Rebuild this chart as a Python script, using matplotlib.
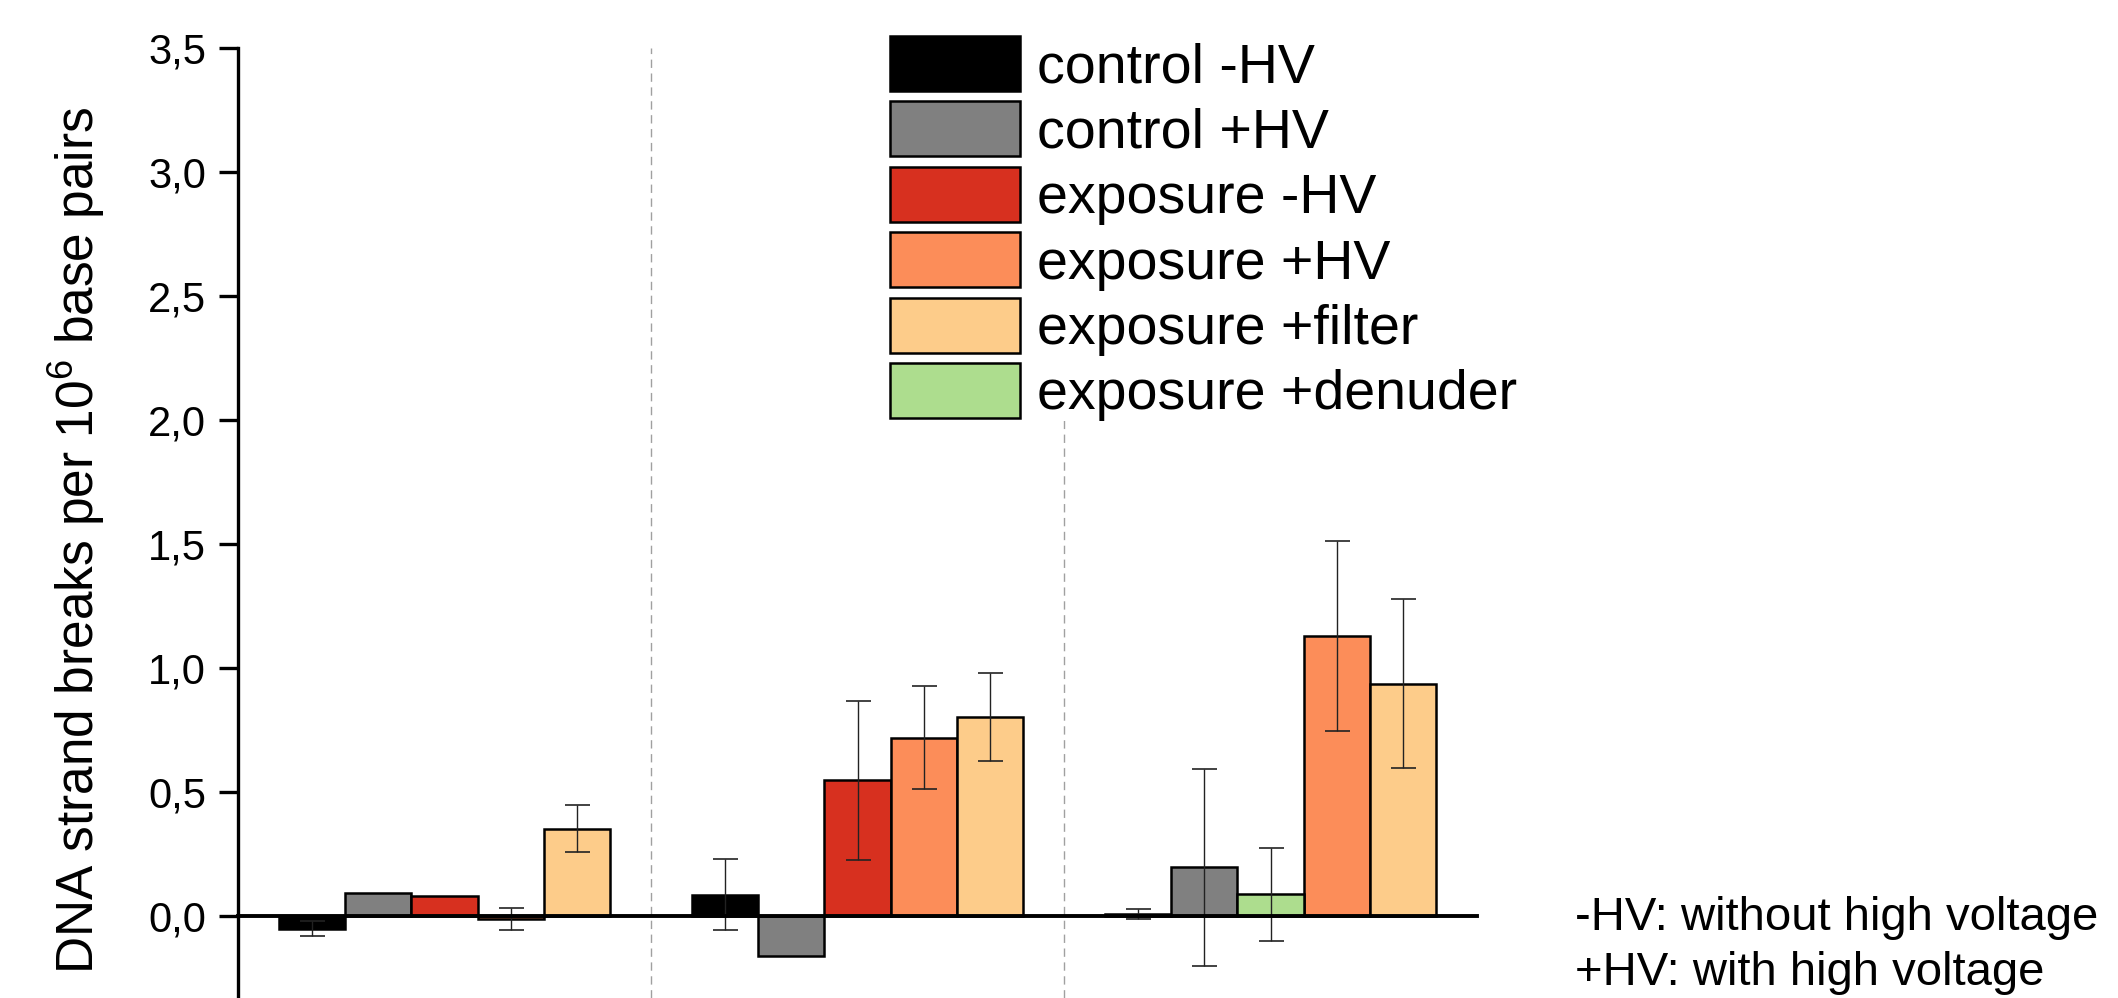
import numpy as np
import matplotlib
matplotlib.use('Agg')
import matplotlib.pyplot as plt

plt.rcParams['font.family'] = ['Liberation Sans', 'DejaVu Sans']
plt.rcParams['mathtext.default'] = 'regular'

labels = ['control -HV', 'control +HV', 'exposure -HV', 'exposure +HV',
          'exposure +filter', 'exposure +denuder']
colors = ['#000000', '#808080', '#d7301f', '#fc8d59', '#fdcc8a', '#addd8e']

ctrl_minus = [-0.05, 0.086, 0.009]
ctrl_minus_err = [0.03, 0.143, 0.02]
ctrl_plus = [0.093, -0.16, 0.197]
ctrl_plus_err = [np.nan, np.nan, 0.396]
exp_minus = [0.08, 0.547, np.nan]
exp_minus_err = [np.nan, 0.322, np.nan]
exp_plus = [-0.011, 0.72, 1.129]
exp_plus_err = [0.044, 0.209, 0.384]
exp_filter = [0.353, 0.803, 0.937]
exp_filter_err = [0.094, 0.178, 0.341]
exp_denuder = [np.nan, np.nan, 0.088]
exp_denuder_err = [np.nan, np.nan, 0.188]

series = [ctrl_minus, ctrl_plus, exp_minus, exp_plus, exp_filter, exp_denuder]
errors = [ctrl_minus_err, ctrl_plus_err, exp_minus_err, exp_plus_err,
          exp_filter_err, exp_denuder_err]
# slot of each series inside a group (exposure -HV and +denuder share a slot)
slots = [0, 1, 2, 3, 4, 2]

n_groups = 3
group_w = 6.25
bar_w = 1.0

W, H = 2118, 998
fig = plt.figure(figsize=(W / 100, H / 100), dpi=100)
ax = fig.add_axes([238 / W, 0, (1477 - 238) / W, (998 - 48) / H])

handles = []
for vals, errs, slot, col, lab in zip(series, errors, slots, colors, labels):
    vals = np.array(vals, dtype=float)
    errs = np.array(errs, dtype=float)
    x = np.arange(n_groups) * group_w + (group_w - 5 * bar_w) / 2 + bar_w / 2 + slot
    ok = ~np.isnan(vals)
    b = ax.bar(x[ok], vals[ok], width=bar_w, color=col, edgecolor='black',
               linewidth=1.8, zorder=2, label=lab)
    handles.append(b)
    e_ok = ok & ~np.isnan(errs)
    if e_ok.any():
        ax.errorbar(x[e_ok], vals[e_ok], yerr=errs[e_ok], fmt='none',
                    ecolor='#222222', elinewidth=1.0, capsize=9, capthick=1.2,
                    zorder=3)

# dashed separators between groups
for g in range(1, n_groups):
    ax.axvline(g * group_w, color='#a0a0a0', linewidth=1.0,
               linestyle=(0, (6, 4)), zorder=0)

ax.set_xlim(0, n_groups * group_w)
ax.set_ylim(-0.33, 3.5)
ax.set_yticks(np.arange(0, 3.51, 0.5))
ax.set_yticklabels([f'{v:.1f}'.replace('.', ',') for v in np.arange(0, 3.51, 0.5)])
ax.set_xticks([])

ax.spines['right'].set_visible(False)
ax.spines['top'].set_visible(False)
ax.spines['bottom'].set_position(('data', 0))
ax.spines['bottom'].set_linewidth(2.8)
ax.spines['bottom'].set_zorder(4)
ax.spines['left'].set_linewidth(2.4)
ax.tick_params(axis='y', direction='out', length=14, width=2.4, pad=9,
               labelsize=30)

fig.text(77 / W, 1 - 540 / H, 'DNA strand breaks per 10$^{6}$ base pairs',
         rotation=90, ha='center', va='center', fontsize=37)

leg = fig.legend(handles=handles, loc='upper left',
                 bbox_to_anchor=(890 / W, 1 - 36 / H), bbox_transform=fig.transFigure,
                 fontsize=40, frameon=True, facecolor='white', edgecolor='none',
                 framealpha=1, borderpad=0, borderaxespad=0,
                 handlelength=2.34, handleheight=1.14, handletextpad=0.3,
                 labelspacing=0.13)

fig.text(1575 / W, 1 - 918 / H, '-HV: without high voltage', ha='left',
         va='center', fontsize=34)
fig.text(1575 / W, 1 - 973 / H, '+HV: with high voltage', ha='left',
         va='center', fontsize=34)

fig.savefig('out.png', dpi=100)
